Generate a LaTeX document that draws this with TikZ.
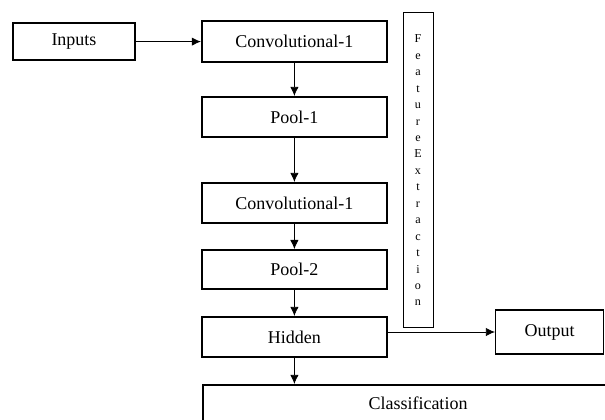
\documentclass[tikz,border=0pt]{standalone}
\usepackage{fontspec}
\setmainfont{Liberation Serif}
\usetikzlibrary{arrows.meta}

\begin{document}
\begin{tikzpicture}[yscale=-1,>={Latex[length=6.5pt,width=6pt]}]
	\tikzstyle{boxes} = [minimum width=4.625cm, minimum height=1cm, font=\fontsize{12.8}{15}\selectfont]
	\tikzstyle{layer} = [boxes, draw=black, line width=1.4pt]
	\tikzstyle{thinbox} = [boxes, draw=black, line width=0.9pt]
	\tikzstyle{link} = [->, line width=0.6pt]
	\useasboundingbox (0,0) rectangle (15.125,10.475);

	\node[layer, minimum width=3.05cm, minimum height=0.925cm] (Inputs) at (1.85,1.04) {Inputs};
	\node[layer, minimum height=1.025cm] (ConvA) at (7.36,1.04) {Convolutional-1};
	\node[layer] (PoolA) at (7.36,2.925) {Pool-1};
	\node[layer] (ConvB) at (7.36,5.075) {Convolutional-1};
	\node[layer, minimum height=0.975cm] (PoolB) at (7.36,6.74) {Pool-2};
	\node[layer] (Hidden) at (7.36,8.425) {Hidden};
	\node[layer, minimum width=10.75cm, minimum height=0.9cm] (Class) at (10.45,10.075) {Classification};
	\node[thinbox, minimum width=2.7cm, minimum height=1.1cm] (Output) at (13.74,8.3) {Output};
	\node[draw=black, line width=0.6pt, minimum width=0.75cm, minimum height=7.875cm, align=center,
		font=\fontsize{8.6}{11.7}\selectfont] (Feat) at (10.45,4.26)
		{F\\e\\a\\t\\u\\r\\e\\E\\x\\t\\r\\a\\c\\t\\i\\o\\n};

	\draw[link] (Inputs.east) -- (ConvA.west);
	\draw[link] (ConvA.south) -- (PoolA.north);
	\draw[link] (PoolA.south) -- (ConvB.north);
	\draw[link] (ConvB.south) -- (PoolB.north);
	\draw[link] (PoolB.south) -- (Hidden.north);
	\draw[link] (Hidden.south) -- (Hidden.south |- Class.north);
	\draw[link] (Hidden.east |- Output.west) -- (Output.west);
\end{tikzpicture}
\end{document}
